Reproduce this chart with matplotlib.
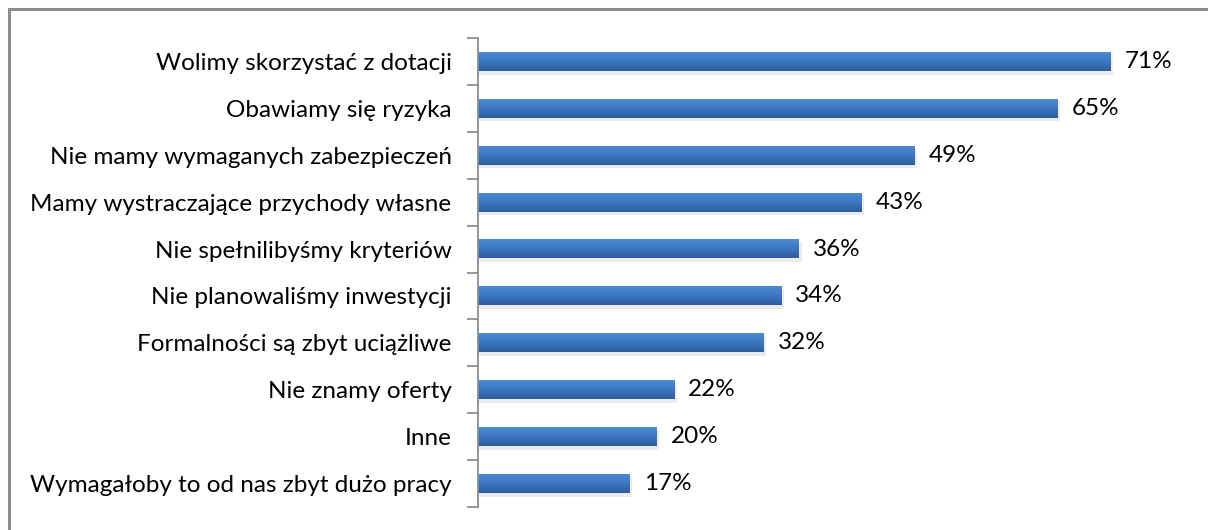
import matplotlib.pyplot as plt
import numpy as np
from matplotlib.colors import LinearSegmentedColormap
from matplotlib.patches import Rectangle

categories = ['Wolimy skorzystać z dotacji', 'Obawiamy się ryzyka',
              'Nie mamy wymaganych zabezpieczeń', 'Mamy wystraczające przychody własne',
              'Nie spełnilibyśmy kryteriów', 'Nie planowaliśmy inwestycji',
              'Formalności są zbyt uciążliwe', 'Nie znamy oferty', 'Inne',
              'Wymagałoby to od nas zbyt dużo pracy']
values = [71, 65, 49, 43, 36, 34, 32, 22, 20, 17]
labels = ['71%', '65%', '49%', '43%', '36%', '34%', '32%', '22%', '20%', '17%']

plt.rcParams['font.family'] = ['Lato', 'DejaVu Sans']

fig = plt.figure(figsize=(12.08, 5.30), dpi=100)
ax = fig.add_axes([478 / 1208, 1 - 507 / 530, (1191 - 478) / 1208, (507 - 38) / 530])

# outer chart frame (only top/left visible)
fig.patches.append(Rectangle((9 / 1208, -0.1), 1.2, 1 - 9 / 530 + 0.1, transform=fig.transFigure,
                             fill=False, edgecolor='#8c8c8c', linewidth=2.2))

cmap = LinearSegmentedColormap.from_list('bar', ['#4d8ad4', '#3c76c2', '#2e5d9c'])
grad = np.linspace(0, 1, 64).reshape(-1, 1)
h = 0.4
n = len(values)
for i, v in enumerate(values):
    y = i
    # soft shadow
    ax.add_patch(Rectangle((0, y - h / 2 + 0.05), v + 0.3, h + 0.03, facecolor='#000000',
                           alpha=0.08, edgecolor='none', zorder=1))
    ax.imshow(grad, extent=(0, v, y + h / 2, y - h / 2), cmap=cmap, aspect='auto',
              origin='upper', zorder=2)
    ax.text(v + 1.6, y, labels[i], va='center', ha='left', fontsize=17.5, color='#000000')

ax.set_xlim(0, 80)
ax.set_ylim(n - 0.5, -0.5)
ax.set_yticks(np.arange(n))
ax.set_yticklabels(categories, fontsize=17.5, color='#000000')
ax.set_yticks(np.arange(n + 1) - 0.5, minor=True)
ax.tick_params(axis='y', which='major', length=0, pad=19)
ax.tick_params(axis='y', which='minor', length=8, width=1.3, color='#8c8c8c')
ax.set_xticks([])
for s in ['top', 'right', 'bottom']:
    ax.spines[s].set_visible(False)
ax.spines['left'].set_color('#8c8c8c')
ax.spines['left'].set_linewidth(1.3)

fig.savefig('out.png', dpi=100)
